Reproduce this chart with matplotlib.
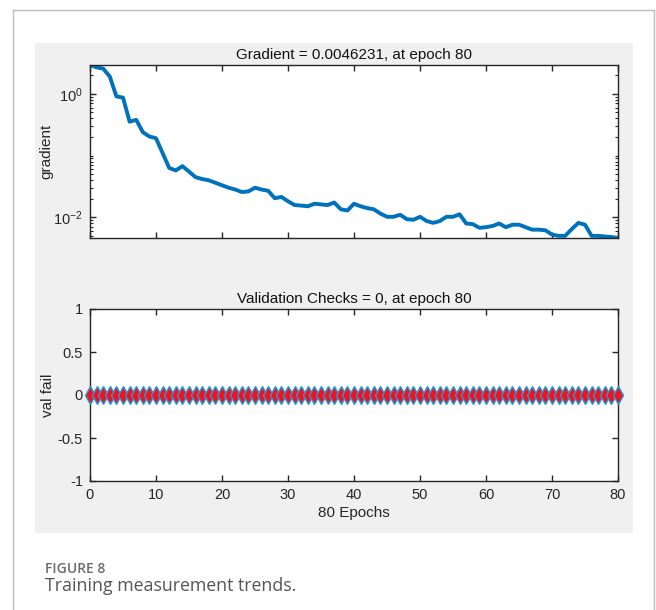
import matplotlib
matplotlib.use("Agg")
import matplotlib.pyplot as plt
from matplotlib.patches import Rectangle
from matplotlib.lines import Line2D
from matplotlib.ticker import FixedLocator, LogLocator, NullFormatter

# --- DATA ---
epochs = list(range(0, 81))
gradient = [
    2.94, 2.69, 2.57, 1.91, 0.912, 0.871, 0.355, 0.380, 0.240, 0.204,
    0.191, 0.110, 0.0631, 0.0575, 0.0676, 0.0550, 0.0447, 0.0417, 0.0398, 0.0363,
    0.0331, 0.0302, 0.0282, 0.0257, 0.0263, 0.0302, 0.0282, 0.0269, 0.0204, 0.0214,
    0.0182, 0.0158, 0.0155, 0.0151, 0.0166, 0.0162, 0.0158, 0.0174, 0.0135, 0.0129,
    0.0166, 0.0151, 0.0141, 0.0135, 0.0115, 0.0102, 0.0102, 0.0110, 0.00933, 0.00912,
    0.0102, 0.00871, 0.00813, 0.00871, 0.0102, 0.0102, 0.0112, 0.00794, 0.00776, 0.00676,
    0.00692, 0.00724, 0.00794, 0.00692, 0.00759, 0.00759, 0.00692, 0.00631, 0.00631, 0.00617,
    0.00525, 0.00501, 0.00501, 0.00646, 0.00813, 0.00759, 0.00501, 0.00501, 0.00490, 0.00479,
    0.0046231,
]
val_fail = [0] * 81
x_ticks = [0, 10, 20, 30, 40, 50, 60, 70, 80]
val_ticks = [-1, -0.5, 0, 0.5, 1]
val_tick_labels = ["-1", "-0.5", "0", "0.5", "1"]
grad_ticks = [1e-2, 1e0]

# --- STYLE ---
plt.rcParams['font.family'] = ['Liberation Sans', 'DejaVu Sans']
ink = '#262626'
blue = '#0072BD'
W, H = 656, 610

fig = plt.figure(figsize=(W / 100, H / 100), dpi=100, facecolor='white')

# page frame and MATLAB grey panel
fig.patches.append(Rectangle((35 / W, 1 - 533 / H), 598 / W, 490 / H,
                             transform=fig.transFigure, facecolor='#f0f0f0',
                             edgecolor='none', zorder=-10))
frame = '#bdbdbd'
fig.lines.append(Line2D([13 / W, 13 / W], [0, 1 - 9.5 / H], transform=fig.transFigure, color=frame, lw=1, zorder=-10))
fig.lines.append(Line2D([13 / W, 654 / W], [1 - 9.5 / H, 1 - 9.5 / H], transform=fig.transFigure, color=frame, lw=1, zorder=-10))
fig.lines.append(Line2D([654 / W, 654 / W], [0, 1 - 9.5 / H], transform=fig.transFigure, color=frame, lw=1, zorder=-10))


def style_axes(ax):
    ax.set_facecolor('white')
    for s in ax.spines.values():
        s.set_color(ink)
        s.set_linewidth(1.0)
    ax.tick_params(direction='in', top=True, right=True, colors=ink,
                   labelsize=10.5, length=4, width=1.0, pad=5)
    ax.tick_params(which='minor', direction='in', top=True, right=True,
                   colors=ink, length=2.5, width=0.8)
    ax.set_xlim(0, 80)
    ax.set_xticks(x_ticks)


# --- GRADIENT PANEL ---
ax1 = fig.add_axes([90 / W, 1 - 238 / H, 528 / W, 173 / H])
style_axes(ax1)
ax1.semilogy(epochs, gradient, color=blue, lw=2.8, solid_joinstyle='round')
ax1.set_ylim(min(gradient), max(gradient))
ax1.yaxis.set_major_locator(FixedLocator(grad_ticks))
ax1.yaxis.set_minor_locator(LogLocator(base=10, subs=range(1, 10), numticks=20))
ax1.yaxis.set_minor_formatter(NullFormatter())
ax1.set_xticklabels([])
ax1.set_ylabel('gradient', fontsize=11, color=ink, labelpad=0)
ax1.set_title('Gradient = 0.0046231, at epoch 80', fontsize=11, color='#111111', pad=4)

# --- VALIDATION CHECKS PANEL ---
ax2 = fig.add_axes([90 / W, 1 - 481 / H, 528 / W, 172 / H])
style_axes(ax2)
ax2.plot(epochs, val_fail, color=blue, lw=1.5, marker='d', markersize=9,
         markerfacecolor='#f5101c', markeredgecolor='#1a9ee0', markeredgewidth=1.0,
         clip_on=False, zorder=3)
ax2.set_ylim(-1, 1)
ax2.set_yticks(val_ticks)
ax2.set_yticklabels(val_tick_labels)
ax2.set_ylabel('val fail', fontsize=11, color=ink, labelpad=2)
ax2.set_xlabel('80 Epochs', fontsize=11, color=ink, labelpad=3)
ax2.set_title('Validation Checks = 0, at epoch 80', fontsize=11, color='#111111', pad=4)

# --- CAPTION ---
fig.text(45 / W, 1 - 569 / H, 'FIGURE 8', fontsize=10, fontweight='semibold',
         color='#6b6b6b', family=['Open Sans', 'DejaVu Sans'], va='center')
fig.text(45 / W, 1 - 586 / H, 'Training measurement trends.', fontsize=12.8,
         color='#555555', family=['Open Sans', 'DejaVu Sans'], va='center')

fig.savefig('out.png', dpi=100, facecolor='white')
